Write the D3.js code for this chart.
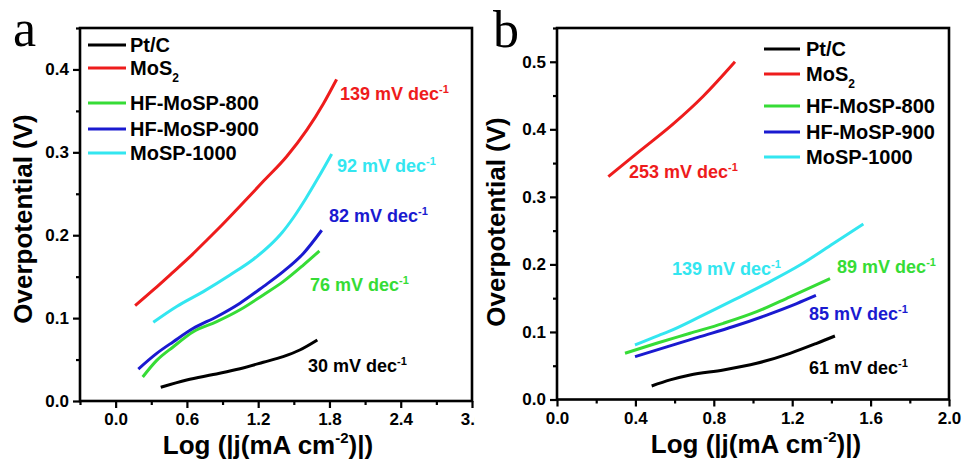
<!DOCTYPE html>
<html><head><meta charset="utf-8">
<script src="https://cdn.jsdelivr.net/npm/d3@7"></script>
<style>
body{margin:0;background:#fff}
svg text{font-family:"Liberation Sans",Arial,sans-serif;font-weight:bold}
</style>
</head><body>
<svg id="c" width="964" height="462"></svg>
<script>
// ---------- data ----------
const seriesNames = ["Pt/C", "MoS2", "HF-MoSP-800", "HF-MoSP-900", "MoSP-1000"];
const seriesColors = ["#000000", "#ee1c1c", "#36dc36", "#1a1ad0", "#33e6f0"];

// Panel a  [log|j|, overpotential V]
const a_PtC   = [[0.38,0.0165],[0.598,0.0253],[0.822,0.032],[1.047,0.039],[1.243,0.0467],[1.41,0.0535],[1.55,0.0615],[1.698,0.0736]];
const a_MoS2  = [[0.164,0.115],[0.317,0.134],[0.472,0.154],[0.64,0.176],[0.767,0.194],[0.893,0.212],[1.02,0.231],[1.243,0.265],[1.44,0.295],[1.61,0.327],[1.75,0.359],[1.86,0.388]];
const a_HF800 = [[0.228,0.029],[0.346,0.049],[0.486,0.0655],[0.654,0.0836],[0.851,0.0957],[1.047,0.11],[1.243,0.128],[1.41,0.144],[1.58,0.164],[1.715,0.181]];
const a_HF900 = [[0.191,0.0386],[0.346,0.0575],[0.486,0.0716],[0.654,0.0877],[0.851,0.1017],[1.047,0.118],[1.243,0.138],[1.41,0.156],[1.58,0.178],[1.735,0.206]];
const a_M1000 = [[0.317,0.095],[0.514,0.114],[0.738,0.132],[0.963,0.152],[1.16,0.171],[1.3,0.188],[1.4,0.203],[1.5,0.222],[1.6,0.244],[1.7,0.268],[1.819,0.298]];
const a_slopeLabels = ["30", "139", "76", "82", "92"];
const a_slopePos = [[1.619,0.035],[1.889,0.363],[1.636,0.133],[1.796,0.216],[1.864,0.276]];
const a_xTicks = [0.0, 0.6, 1.2, 1.8, 2.4, 3.0];
const a_xMinor = [-0.3, 0.3, 0.9, 1.5, 2.1, 2.7];
const a_yTicks = [0.0, 0.1, 0.2, 0.3, 0.4];
const a_yMinor = [0.05, 0.15, 0.25, 0.35, 0.45];

// Panel b
const b_PtC   = [[0.483,0.02],[0.577,0.029],[0.679,0.0363],[0.849,0.0437],[1.019,0.0536],[1.189,0.0684],[1.325,0.0832],[1.418,0.094]];
const b_MoS2  = [[0.262,0.33],[0.423,0.368],[0.593,0.408],[0.746,0.449],[0.908,0.5]];
const b_HF800 = [[0.347,0.0684],[0.508,0.0832],[0.679,0.098],[0.849,0.1128],[1.019,0.13],[1.189,0.152],[1.393,0.179]];
const b_HF900 = [[0.398,0.0634],[0.56,0.078],[0.73,0.093],[0.9,0.108],[1.07,0.125],[1.223,0.142],[1.321,0.154]];
const b_M1000 = [[0.398,0.0807],[0.52,0.095],[0.568,0.1004],[0.73,0.1226],[0.9,0.147],[1.07,0.172],[1.24,0.199],[1.41,0.231],[1.563,0.26]];
const b_slopeLabels = ["61", "253", "89", "85", "139"];
const b_slopePos = [[1.286,0.038],[0.367,0.328],[1.429,0.187],[1.286,0.118],[0.587,0.184]];
const b_xTicks = [0.0, 0.4, 0.8, 1.2, 1.6, 2.0];
const b_xMinor = [0.2, 0.6, 1.0, 1.4, 1.8];
const b_yTicks = [0.0, 0.1, 0.2, 0.3, 0.4, 0.5];
const b_yMinor = [0.05, 0.15, 0.25, 0.35, 0.45, 0.55];

// ---------- drawing ----------
const svg = d3.select("#c");
svg.append("rect").attr("width",964).attr("height",462).attr("fill","#fff");
const fmt = d3.format(".1f");

function panel(cfg) {
  const g = svg.append("g");
  if (cfg.clip) {
    svg.append("clipPath").attr("id", cfg.id + "clip")
      .append("rect").attr("x", 0).attr("y", 0).attr("width", cfg.clip).attr("height", 462);
    g.attr("clip-path", `url(#${cfg.id}clip)`);
  }
  const x = d3.scaleLinear().domain(cfg.xDomain).range(cfg.xRange);
  const y = d3.scaleLinear().domain(cfg.yDomain).range(cfg.yRange);
  const [x0, x1] = cfg.xRange, [y0, y1] = cfg.yRange;

  // axes
  const gx = g.append("g").attr("transform", `translate(0,${y0})`)
    .call(d3.axisBottom(x).tickValues(cfg.xTicks).tickSize(7).tickPadding(5).tickFormat(fmt));
  const gxm = g.append("g").attr("transform", `translate(0,${y0})`)
    .call(d3.axisBottom(x).tickValues(cfg.xMinor).tickSize(4).tickFormat(""));
  const gy = g.append("g").attr("transform", `translate(${x0},0)`)
    .call(d3.axisLeft(y).tickValues(cfg.yTicks).tickSize(7).tickPadding(4).tickFormat(fmt));
  const gym = g.append("g").attr("transform", `translate(${x0},0)`)
    .call(d3.axisLeft(y).tickValues(cfg.yMinor).tickSize(4).tickFormat(""));
  [gx, gxm, gy, gym].forEach(a => {
    a.select(".domain").remove();
    a.selectAll("line").attr("stroke", "#000").attr("stroke-width", 2.2);
    a.selectAll("text").attr("font-size", 17).attr("fill", "#000")
      .style("font-family", '"Liberation Sans",Arial,sans-serif').style("font-weight", "bold");
  });

  // frame
  g.append("rect").attr("x", x0).attr("y", y1).attr("width", x1 - x0).attr("height", y0 - y1)
    .attr("fill", "none").attr("stroke", "#000").attr("stroke-width", 2.6);

  // curves
  const line = d3.line().x(d => x(d[0])).y(d => y(d[1])).curve(d3.curveMonotoneX);
  cfg.series.forEach((s, i) => {
    g.append("path").datum(s).attr("d", line).attr("fill", "none")
      .attr("stroke", seriesColors[i]).attr("stroke-width", 3).attr("stroke-linecap", "butt");
  });

  // slope labels
  cfg.slopeLabels.forEach((lab, i) => {
    const t = g.append("text").attr("x", x(cfg.slopePos[i][0])).attr("y", y(cfg.slopePos[i][1]))
      .attr("font-size", 18).attr("fill", seriesColors[i]);
    t.append("tspan").text(lab + " mV dec");
    t.append("tspan").attr("font-size", 11).attr("dy", -7).text("-1");
  });

  // legend
  seriesNames.forEach((n, i) => {
    const ly = cfg.legendY[i];
    g.append("line").attr("x1", cfg.legendX[0]).attr("x2", cfg.legendX[1]).attr("y1", ly).attr("y2", ly)
      .attr("stroke", seriesColors[i]).attr("stroke-width", 3);
    const t = g.append("text").attr("x", cfg.legendX[2]).attr("y", ly).attr("dy", "0.36em")
      .attr("font-size", 20).attr("fill", "#000");
    if (n === "MoS2") {
      t.append("tspan").text("MoS");
      t.append("tspan").attr("font-size", 12).attr("dy", 7).text("2");
    } else t.text(n);
  });

  // axis titles
  const xt = svg.append("text").attr("x", cfg.xTitle[0]).attr("y", cfg.xTitle[1])
    .attr("text-anchor", "middle").attr("font-size", 26).attr("fill", "#000");
  xt.append("tspan").text("Log (|j(mA cm");
  xt.append("tspan").attr("font-size", 15).attr("dy", -11).text("-2");
  xt.append("tspan").attr("dy", 11).text(")|)");
  svg.append("text").attr("transform", `translate(${cfg.yTitle[0]},${cfg.yTitle[1]}) rotate(-90)`)
    .attr("text-anchor", "middle").attr("font-size", 26).attr("fill", "#000").text("Overpotential (V)");

  // panel letter
  svg.append("text").attr("x", cfg.letter[0]).attr("y", cfg.letter[1])
    .style("font-family", '"Liberation Serif","Times New Roman",serif').style("font-weight", "normal")
    .attr("font-size", 52).attr("fill", "#000").text(cfg.id);
}

panel({
  id: "a", clip: 475,
  xDomain: [-0.3, 3.0], xRange: [80, 472],
  yDomain: [0, 0.45], yRange: [401, 28],
  xTicks: a_xTicks, xMinor: a_xMinor, yTicks: a_yTicks, yMinor: a_yMinor,
  series: [a_PtC, a_MoS2, a_HF800, a_HF900, a_M1000],
  slopeLabels: a_slopeLabels, slopePos: a_slopePos,
  legendX: [88, 126, 130], legendY: [45, 68, 103, 129, 153],
  xTitle: [268, 454], yTitle: [32, 219], letter: [13, 46]
});
panel({
  id: "b",
  xDomain: [0, 2.0], xRange: [557, 949],
  yDomain: [0, 0.55], yRange: [399.5, 28],
  xTicks: b_xTicks, xMinor: b_xMinor, yTicks: b_yTicks, yMinor: b_yMinor,
  series: [b_PtC, b_MoS2, b_HF800, b_HF900, b_M1000],
  slopeLabels: b_slopeLabels, slopePos: b_slopePos,
  legendX: [764, 800, 806], legendY: [49, 74, 106, 132, 157],
  xTitle: [756, 453], yTitle: [505, 222], letter: [493, 47]
});
</script>
</body></html>
